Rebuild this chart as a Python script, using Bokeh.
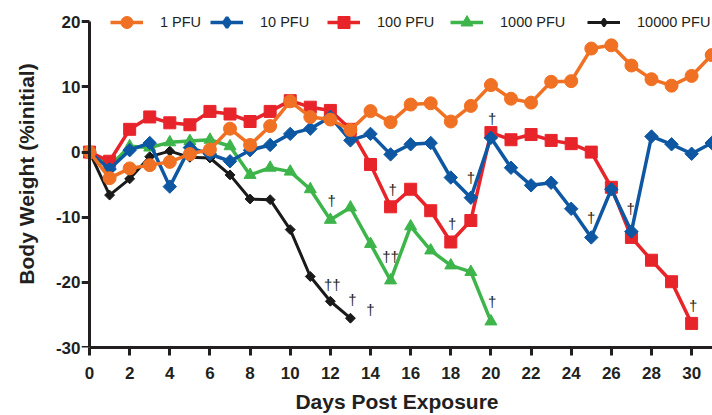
import numpy as np
from bokeh.plotting import figure
from bokeh.models import Range1d, Legend, LegendItem, FixedTicker, ColumnDataSource, LinearAxis
from bokeh.core.properties import value
from bokeh.embed import file_html
from bokeh.resources import INLINE

# ---- data ----
days_1 = list(range(0, 32))
pfu_1 = [0, -4.0, -2.5, -2.0, -1.5, -0.3, 0.4, 3.6, 1.1, 4.0, 7.8, 5.4, 5.0, 3.4, 6.3, 4.6,
         7.3, 7.5, 4.7, 7.1, 10.3, 8.2, 7.6, 10.8, 10.9, 15.9, 16.4, 13.3, 11.2, 10.2, 11.7, 14.9]
days_10 = list(range(0, 32))
pfu_10 = [0, -2.6, 0.3, 1.4, -5.3, 0.7, -0.3, -1.4, 0.3, 1.1, 2.8, 3.6, 5.4, 1.8, 2.8, -0.35,
          1.2, 1.4, -3.9, -7.0, 2.2, -2.4, -5.1, -4.7, -8.7, -13.1, -5.7, -12.2, 2.4, 1.2, -0.25, 1.4]
days_100 = list(range(0, 31))
pfu_100 = [0, -1.4, 3.5, 5.4, 4.5, 4.2, 6.25, 5.85, 4.7, 6.25, 7.9, 6.9, 6.4, 3.5, -1.9, -8.4,
           -5.7, -9.0, -13.8, -10.5, 3.0, 1.9, 2.7, 1.8, 1.3, 0.0, -5.4, -13.1, -16.6, -19.9, -26.3]
days_1000 = list(range(0, 21))
pfu_1000 = [0, -2.2, 0.9, 0.7, 1.5, 1.7, 1.9, 0.9, -3.5, -2.4, -3.0, -5.7, -10.4, -8.5, -14.1,
            -19.7, -11.4, -15.1, -17.4, -18.4, -26.0]
days_10000 = list(range(0, 14))
pfu_10000 = [0, -6.6, -4.1, -0.7, 0.15, -0.8, -0.9, -3.5, -7.2, -7.3, -11.9, -19.1, -22.9, -25.5]

# deaths (dagger annotations)
death_day = [12.06, 12.1, 13.1, 14.0, 15.1, 15.0, 18.07, 19.0, 20.06, 20.06, 25.0, 26.96, 30.08]
death_val = [-7.5, -20.4, -22.7, -24.2, -5.7, -16.1, -11.0, -3.9, 5.2, -23.0, -10.0, -8.6, -23.6]
death_txt = ["†", "††", "†", "†", "†", "††", "†", "†", "†", "†", "†", "†", "†"]

x_ticks = list(range(0, 31, 2))
y_ticks = [-30, -20, -10, 0, 10, 20]

FONT = "Liberation Sans"
TXT = "#231F20"

p = figure(width=712, height=415, output_backend="svg", toolbar_location=None,
           x_range=Range1d(-0.4, 31.04), y_range=Range1d(-30, 23.28),
           min_border_left=81, min_border_right=0, min_border_top=0, min_border_bottom=66)
p.outline_line_color = None
p.grid.visible = False
p.background_fill_color = "white"


def style_axis(ax):
    ax.axis_line_width = 3
    ax.axis_line_color = TXT
    ax.major_tick_line_width = 3
    ax.major_tick_line_color = TXT
    ax.major_tick_out = 8
    ax.major_tick_in = 0
    ax.minor_tick_line_color = None
    ax.major_label_text_font = FONT
    ax.major_label_text_font_style = "bold"
    ax.major_label_text_font_size = "17px"
    ax.major_label_text_color = TXT
    ax.axis_label_text_font = FONT
    ax.axis_label_text_font_style = "bold"
    ax.axis_label_text_font_size = "21px"
    ax.axis_label_text_color = TXT


# x axis
xax = p.xaxis[0]
style_axis(xax)
xax.ticker = FixedTicker(ticks=x_ticks)
xax.bounds = (0, 31.04)
xax.axis_label = "Days Post Exposure"
xax.major_label_standoff = 11
xax.axis_label_standoff = 8

# y axis labels (at the frame edge, no line)
yl = p.yaxis[0]
style_axis(yl)
yl.ticker = FixedTicker(ticks=y_ticks)
yl.major_label_overrides = {t: str(t) for t in y_ticks}
yl.bounds = (-30, 20)
yl.axis_line_color = None
yl.major_tick_line_color = None
yl.major_tick_out = 0
yl.major_label_standoff = 1
yl.axis_label = "Body Weight (%initial)"
yl.axis_label_standoff = 15

# y axis line and ticks drawn at day 0
yline = LinearAxis(fixed_location=0, ticker=FixedTicker(ticks=y_ticks), bounds=(-30, 20))
style_axis(yline)
yline.major_label_text_font_size = "0px"
yline.major_label_text_alpha = 0
yline.major_label_standoff = 0
p.add_layout(yline, "left")

# name, x, y, colour, marker, size, angle, line width, legend marker, legend marker line width, legend glyph height
series = [
    ("10000 PFU", days_10000, pfu_10000, "#1A1A1A", "square", 7, np.pi / 4, 3, "diamond", 2, 20),
    ("1000 PFU", days_1000, pfu_1000, "#3DB54A", "triangle", 12, 0, 3.5, "triangle", 1, 30),
    ("100 PFU", days_100, pfu_100, "#E8242B", "square", 12, 0, 3.5, "square", 1, 30),
    ("10 PFU", days_10, pfu_10, "#0E57A2", "square", 9.5, np.pi / 4, 3.5, "diamond", 3, 26),
    ("1 PFU", days_1, pfu_1, "#F07123", "circle", 13, 0, 3.5, "circle", 1, 30),
]

items = {}
for name, xs, ys, col, mk, sz, ang, lw, lmk, llw, gh in series:
    src = ColumnDataSource(dict(x=xs, y=ys))
    r1 = p.line("x", "y", source=src, line_color=col, line_width=lw)
    r2 = p.scatter("x", "y", source=src, marker=mk, size=sz, angle=ang,
                   fill_color=col, line_color=col)
    if lmk == mk and ang == 0:
        items[name] = ([r1, r2], gh)
    else:
        r3 = p.scatter("x", "y", source=src, marker=lmk, size=sz, fill_color=col,
                       line_color=col, line_width=llw, visible=False)
        items[name] = ([r1, r3], gh)

p.text(x=death_day, y=death_val, text=death_txt, text_align="center", text_baseline="middle",
       text_font=value(FONT), text_font_size="15px", text_color=TXT)

legend_order = ["1 PFU", "10 PFU", "100 PFU", "1000 PFU", "10000 PFU"]
legend_x = [29, 129, 246, 369, 506]
for name, lx in zip(legend_order, legend_x):
    rends, gh = items[name]
    leg = Legend(items=[LegendItem(label=name, renderers=rends)],
                 location=(lx, 310 + (30 - gh) / 2), orientation="horizontal",
                 glyph_width=33, glyph_height=gh, label_standoff=17,
                 padding=0, margin=0, spacing=0,
                 border_line_color=None, background_fill_alpha=0,
                 label_text_font=FONT, label_text_font_size="14.5px",
                 label_text_color=TXT)
    p.add_layout(leg)

open("out.html", "w").write(file_html(p, INLINE))
